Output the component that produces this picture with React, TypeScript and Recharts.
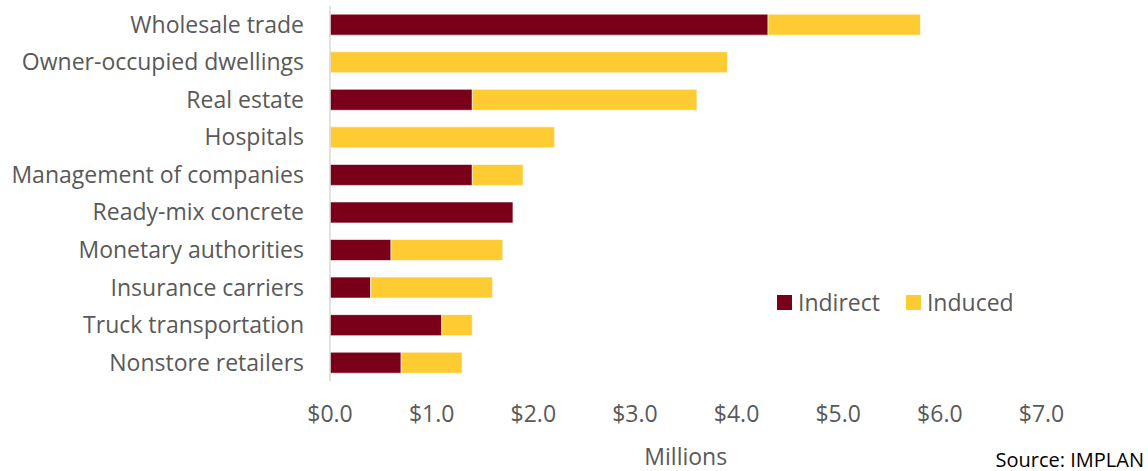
import React from "react";
import { BarChart, Bar, XAxis, YAxis, Legend } from "recharts";

const categories = [
  "Wholesale trade",
  "Owner-occupied dwellings",
  "Real estate",
  "Hospitals",
  "Management of companies",
  "Ready-mix concrete",
  "Monetary authorities",
  "Insurance carriers",
  "Truck transportation",
  "Nonstore retailers",
];
const indirectValues = [4.31, 0, 1.4, 0, 1.4, 1.8, 0.6, 0.4, 1.1, 0.7];
const inducedValues = [1.5, 3.91, 2.21, 2.21, 0.5, 0, 1.1, 1.2, 0.3, 0.6];
const xTicks = [0, 1, 2, 3, 4, 5, 6, 7];

const data = categories.map((name, i) => ({
  name,
  Indirect: indirectValues[i],
  Induced: inducedValues[i],
}));

const FONT = "'Open Sans', sans-serif";
const TEXT = "#595959";
const INDIRECT = "#7A001A";
const INDUCED = "#FFCB33";

const LegendContent = () => (
  <div style={{ display: "flex", alignItems: "center", fontFamily: FONT, fontSize: 23, color: TEXT, lineHeight: 1 }}>
    <span style={{ width: 15, height: 15, background: INDIRECT, display: "inline-block", marginRight: 6 }} />
    <span style={{ marginRight: 26 }}>Indirect</span>
    <span style={{ width: 15, height: 15, background: INDUCED, display: "inline-block", marginRight: 6 }} />
    <span>Induced</span>
  </div>
);

export default function App() {
  return (
    <div style={{ position: "absolute", left: 0, top: 0, width: 1148, height: 471, background: "#fff" }}>
      <BarChart
        width={1148}
        height={471}
        data={data}
        layout="vertical"
        margin={{ top: 5.7, right: 106.5, bottom: 29.7, left: 0 }}
        barCategoryGap="22.5%"
      >
        <XAxis
          type="number"
          domain={[0, 7]}
          ticks={xTicks}
          tickFormatter={(v: number) => `$${v.toFixed(1)}`}
          axisLine={false}
          tickLine={false}
          tickSize={0}
          tickMargin={24}
          height={60}
          tick={{ fill: TEXT, fontSize: 23, fontFamily: FONT }}
          label={(props: any) => {
            const vb = props.viewBox || {};
            return (
              <text
                x={(vb.x ?? 330) + (vb.width ?? 711) / 2}
                y={465}
                textAnchor="middle"
                fill={TEXT}
                fontSize={23}
                fontFamily={FONT}
              >
                Millions
              </text>
            );
          }}
        />
        <YAxis
          type="category"
          dataKey="name"
          width={330}
          tickLine={false}
          tickSize={0}
          tickMargin={26}
          axisLine={{ stroke: "#d9d9d9", strokeWidth: 1.5 }}
          interval={0}
          tick={{ fill: TEXT, fontSize: 23, fontFamily: FONT }}
        />
        <Legend
          layout="horizontal"
          verticalAlign="middle"
          align="center"
          content={<LegendContent />}
          wrapperStyle={{ position: "absolute", left: 777, top: 291, width: "auto", height: "auto" }}
        />
        <Bar dataKey="Indirect" stackId="a" fill={INDIRECT} stroke="#ffffff" strokeWidth={0.6} isAnimationActive={false} />
        <Bar dataKey="Induced" stackId="a" fill={INDUCED} stroke="#ffffff" strokeWidth={0.6} isAnimationActive={false} />
      </BarChart>
      <div
        style={{
          position: "absolute",
          right: 4,
          top: 450,
          fontFamily: FONT,
          fontSize: 20,
          color: "#000",
          lineHeight: 1,
          whiteSpace: "nowrap",
        }}
      >
        Source: IMPLAN
      </div>
    </div>
  );
}
